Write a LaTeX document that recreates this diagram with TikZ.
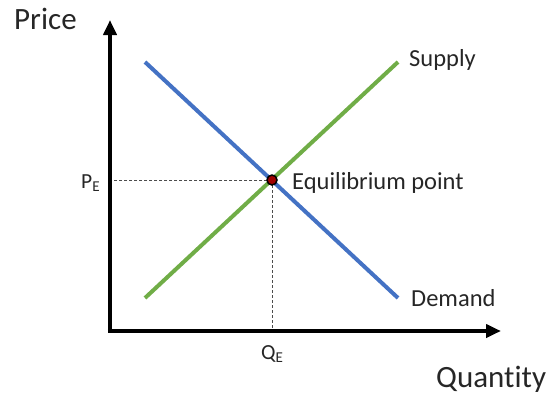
\documentclass[tikz,border=0pt]{standalone}
\usepackage{fontspec}
\setmainfont{Carlito}[Ligatures={NoCommon}]
\usetikzlibrary{arrows.meta}
\definecolor{dblue}{HTML}{4472C4}
\definecolor{sgreen}{HTML}{70AD47}
\definecolor{eqred}{HTML}{A00000}
\definecolor{txt}{HTML}{262626}
\begin{document}
\begin{tikzpicture}[x=1pt,y=-1pt,
  axisline/.style={line width=4.5pt,-{Triangle[width=13pt,length=15pt]}},
  curve/.style={line width=4pt},
  guide/.style={dashed,line width=0.8pt,dash pattern=on 3pt off 2pt,black!70},
  lbl/.style={inner sep=0pt,text=txt,font=\fontsize{24.5}{27}\selectfont},
  big/.style={inner sep=0pt,text=txt,font=\fontsize{31}{34}\selectfont},
  tick/.style={inner sep=0pt,text=txt,font=\fontsize{21.5}{24}\selectfont}]
\useasboundingbox (0,0) rectangle (548,394);
\coordinate (O) at (110,331);
\coordinate (ytop) at (110,20);
\coordinate (xend) at (501,331);
\coordinate (d1) at (145,62);
\coordinate (d2) at (398,298);
\coordinate (s1) at (145,298);
\coordinate (s2) at (398,62);
\coordinate (eq) at (272,180);
% guides
\draw[guide] (eq) -- (eq -| O);
\draw[guide] (eq) -- (eq |- O);
% curves
\draw[curve,sgreen] (s1) -- (s2);
\draw[curve,dblue] (d1) -- (d2);
% axes
\draw[axisline,line cap=butt] ([yshift=2.25pt]O) -- (ytop);
\draw[axisline] ([xshift=-2.25pt]O) -- (xend);
% point
\node[circle,fill=eqred,draw=black,line width=1.5pt,minimum size=10pt,inner sep=0pt] (eqdot) at (eq) {};
% labels
\node[big,anchor=base west] (price) at (14,29) {Price};
\node[big,anchor=base west] (qty) at (436,387) {Quantity};
\node[lbl,anchor=base west] (supply) at (409,66) {Supply};
\node[lbl,anchor=base west] (demand) at (411,306) {Demand};
\node[lbl,anchor=base west] (eqlbl) at (292,189) {Equilibrium point};
\node[tick,anchor=base west] (pe) at (81,188) {P\textsubscript{E}};
\node[tick,anchor=base west] (qe) at (261,359) {Q\textsubscript{E}};
\end{tikzpicture}
\end{document}
